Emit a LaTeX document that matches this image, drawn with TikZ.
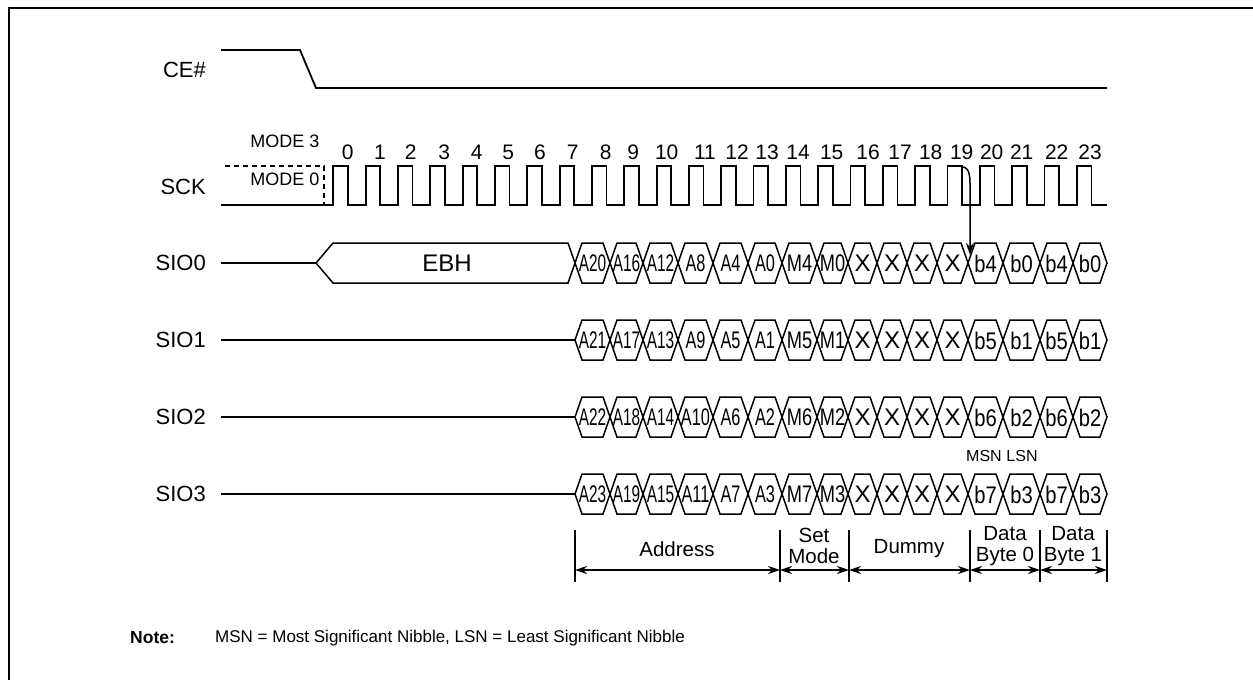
\documentclass[tikz,border=0pt]{standalone}
\usepackage{fontspec}
\setmainfont{Liberation Sans}
\usepackage{graphicx}
\usetikzlibrary{arrows.meta}
\tikzset{
  sig/.style={line width=1.8pt, line join=miter},
  bus/.style={line width=1.5pt, line join=miter},
  dim/.style={line width=1.2pt},
  dimarrow/.style={line width=1.2pt, {Stealth[length=12pt,width=8pt]}-{Stealth[length=12pt,width=8pt]}},
  lbl/.style={font=\fontsize{22}{24}\selectfont, inner sep=0pt},
  num/.style={font=\fontsize{21}{23}\selectfont, inner sep=0pt},
  modetxt/.style={font=\fontsize{18}{20}\selectfont, inner sep=0pt},
  celltext/.style={font=\fontsize{24}{26}\selectfont, inner sep=0pt},
  brk/.style={font=\fontsize{20.5}{21}\selectfont, inner sep=0pt, align=center},
  notetxt/.style={font=\fontsize{17}{19}\selectfont, inner sep=0pt, anchor=west},
}
\def\cx{{575,610,643,678,713,748,782,817,848,877,907,937,968,1003,1040,1073,1107}}
\def\csc{{0.64,0.64,0.64,0.68,0.68,0.68,0.76,0.76,1,1,1,1,0.84,0.84,0.84,0.84}}
\newcommand\busrow[3]{%
  \foreach \t [count=\j from 0] in {#3} {
    \pgfmathsetmacro\xa{\cx[\j]}
    \pgfmathsetmacro\xb{\cx[\j+1]}
    \pgfmathsetmacro\sc{\csc[\j]}
    \draw[bus] (\xa,#2) -- ({\xa+7},{#2-20}) -- ({\xb-7},{#2-20}) -- (\xb,#2) -- ({\xb-7},{#2+20}) -- ({\xa+7},{#2+20}) -- cycle;
    \node[celltext] (c#1-\j) at ({(\xa+\xb)/2},{#2+0.5}) {\scalebox{\sc}[1]{\t}};
  }%
}
\begin{document}
\begin{tikzpicture}[x=1pt,y=-1pt]
\useasboundingbox (0,0) rectangle (1253,680);
\fill[white] (0,0) rectangle (1253,680);
% frame
\draw[line width=2.6pt] (9,682) -- (9,8) -- (1255,8);

% labels
\node[lbl, anchor=east] (ce) at (206,70) {CE\#};
\node[lbl, anchor=east] (sck) at (206,187) {SCK};
\node[lbl, anchor=east] (sio0) at (206,263) {SIO0};
\node[lbl, anchor=east] (sio1) at (206,340) {SIO1};
\node[lbl, anchor=east] (sio2) at (206,417) {SIO2};
\node[lbl, anchor=east] (sio3) at (206,494) {SIO3};

% CE#
\draw[sig] (221,50) -- (300,50) -- (316,88) -- (1107,88);

% SCK
\draw[sig, dash pattern=on 5pt off 4pt] (225,166) -- (324,166) -- (324,205);
\draw[sig] (221,205)
  \foreach \k in {0,...,23}{
    -- ({333.3+32.33*\k},205) -- ({333.3+32.33*\k},166)
    -- ({347.8+32.33*\k},166) -- ({347.8+32.33*\k},205)
  } -- (1107,205);
\node[modetxt] (m3) at (285,141) {MODE 3};
\node[modetxt] (m0) at (285,179) {MODE 0};
\foreach \n/\xx in {0/347.7,1/380,2/410.7,3/444.3,4/476.7,5/508.3,6/540,7/572.7,
  8/605.7,9/633.3,10/666.7,11/705,12/737,13/767,14/798,15/831.7,16/868,17/900,
  18/930.7,19/961.7,20/991.7,21/1021.7,22/1056.7,23/1090}
  \node[num] (n\n) at (\xx,152) {\n};

% SIO0 with EBH
\draw[bus] (221,263) -- (316,263);
\draw[bus] (316,263) -- (333,243) -- (568,243) -- (575,263) -- (568,283) -- (333,283) -- cycle;
\node[font=\fontsize{24}{26}\selectfont, inner sep=0pt] (ebh) at (447,263) {EBH};
\busrow{0}{263}{A20,A16,A12,A8,A4,A0,M4,M0,X,X,X,X,b4,b0,b4,b0}

% SIO1..3
\draw[bus] (221,340) -- (575,340);
\busrow{1}{340}{A21,A17,A13,A9,A5,A1,M5,M1,X,X,X,X,b5,b1,b5,b1}
\draw[bus] (221,417) -- (575,417);
\busrow{2}{417}{A22,A18,A14,A10,A6,A2,M6,M2,X,X,X,X,b6,b2,b6,b2}
\draw[bus] (221,494) -- (575,494);
\busrow{3}{494}{A23,A19,A15,A11,A7,A3,M7,M3,X,X,X,X,b7,b3,b7,b3}

\node[font=\fontsize{16}{18}\selectfont, inner sep=0pt] (msn) at (984,456) {MSN};
\node[font=\fontsize{16}{18}\selectfont, inner sep=0pt] (lsn) at (1022,456) {LSN};

% clock to data arrow
\draw[line width=1.5pt, -{Stealth[length=12pt,width=8pt]}] (962,167) to[out=0,in=90] (970,186) -- (970,255);

% brackets
\foreach \x [count=\k] in {575,780,849,970,1040,1107}{
  \draw[dim] (\x,530) -- (\x,582);
  \coordinate (ba\k) at (\x,570);
}
\draw[dimarrow] (ba1) -- (ba2);
\draw[dimarrow] (ba2) -- (ba3);
\draw[dimarrow] (ba3) -- (ba4);
\draw[dimarrow] (ba4) -- (ba5);
\draw[dimarrow] (ba5) -- (ba6);
\node[brk] (addr) at (677,549) {Address};
\node[brk] (setm) at (814,546) {Set\\Mode};
\node[brk] (dum) at (909,549) {Dummy};
\node[brk] (db0) at (1005,546) {Data\\Byte 0};
\node[brk] (db1) at (1073,546) {Data\\Byte 1};

% note
\node[notetxt, font=\fontsize{17.5}{19}\selectfont\bfseries] (note) at (130,638) {Note:};
\node[notetxt] (notetext) at (215,638) {MSN = Most Significant Nibble, LSN = Least Significant Nibble};
\end{tikzpicture}
\end{document}
